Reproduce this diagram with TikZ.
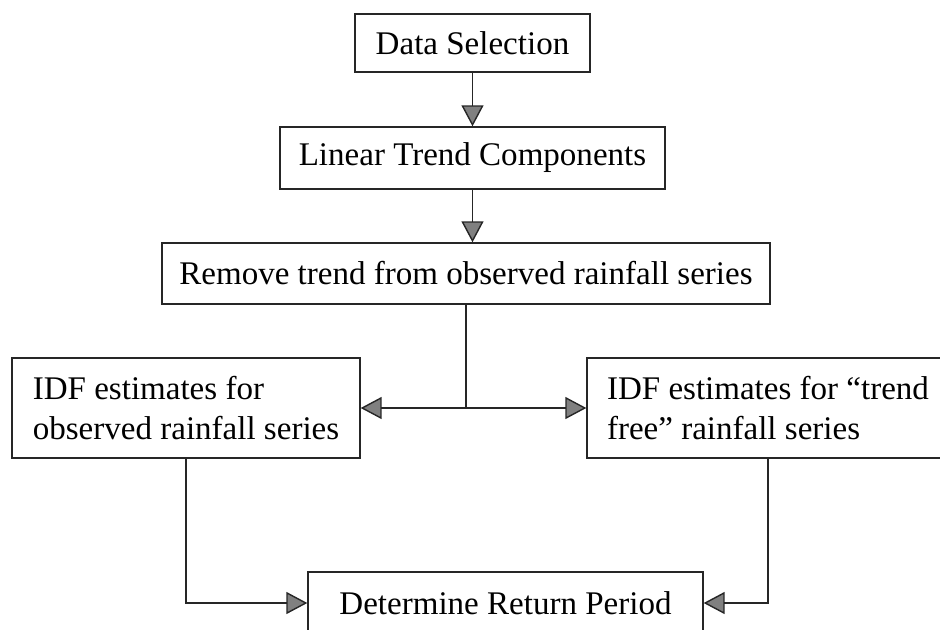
\documentclass[tikz,border=0pt]{standalone}
\usepackage{fontspec}
\setmainfont{Liberation Serif}
\usetikzlibrary{arrows.meta}

\begin{document}
\begin{tikzpicture}[x=0.02cm, y=-0.02cm,
    box/.style={draw=black!85, line width=0.8pt, inner sep=0pt,
      font=\fontsize{18.8}{22.8}\selectfont},
    flow/.style={draw=black!85, line width=0.8pt,
      -{Triangle[length=4.2mm, width=4.4mm, fill=black!50]}}]
    \useasboundingbox (0,0) rectangle (940,629);

    % Top chain
    \node[box, minimum width=4.7cm, minimum height=1.16cm] (datasel) at (472.5,43) {Data Selection};
    \node[box, minimum width=7.7cm, minimum height=1.24cm] (lintrend) at (472.5,158) {Linear Trend Components};
    \node[box, minimum width=12.16cm, minimum height=1.22cm] (remtrend) at (466,273.5) {Remove trend from observed rainfall series};

    % IDF estimates
    \node[box, minimum width=6.96cm, minimum height=2cm, align=left]
      (idfobs) at (186,408) {IDF estimates for\\observed rainfall series};
    \node[box, minimum width=7.24cm, minimum height=2cm, align=left]
      (idffree) at (768,408) {IDF estimates for “trend\\free” rainfall series};

    % Return period
    \node[box, minimum width=7.9cm, minimum height=1.24cm] (retper) at (505.5,603) {Determine Return Period};

    % Connectors
    \draw[flow] (datasel.south) -- (lintrend.north);
    \draw[flow] (lintrend.south) -- (lintrend.south |- remtrend.north);
    \coordinate (split) at (remtrend.south |- idfobs.east);
    \draw[draw=black!85, line width=0.8pt] (remtrend.south) -- (split);
    \draw[flow] (split) -- (idfobs.east);
    \draw[flow] (split) -- (idffree.west);
    \draw[flow] (idfobs.south) |- (retper.west);
    \draw[flow] (idffree.south) |- (retper.east);
\end{tikzpicture}
\end{document}
